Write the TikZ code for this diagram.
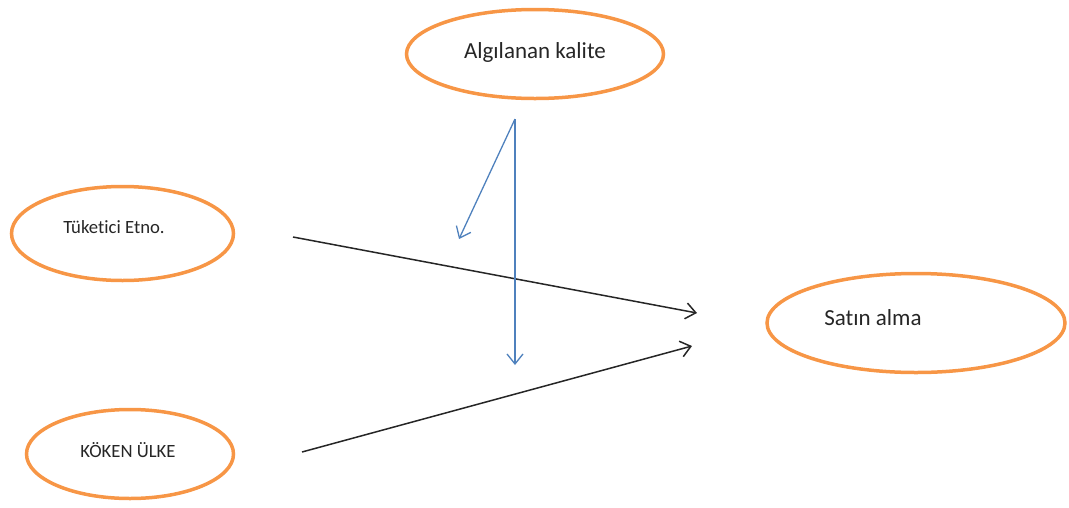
\documentclass[tikz,border=0pt]{standalone}
\usepackage{fontspec}
\setmainfont{Carlito}[Ligatures=NoCommon]
\usetikzlibrary{shapes.geometric,arrows.meta}
\definecolor{ovalorange}{HTML}{F79646}
\definecolor{linkblue}{HTML}{4F81BD}
\tikzset{
  oval/.style={draw=ovalorange, line width=3.5pt, ellipse, inner sep=0pt},
  biglabel/.style={font=\fontsize{23}{27}\selectfont, inner sep=0pt, text=black!85},
  smalllabel/.style={font=\fontsize{18.7}{22}\selectfont, inner sep=0pt, text=black!85},
  blackarrow/.style={draw=black!85, line width=1.5pt, -{Straight Barb[length=10pt,width=16pt,line width=1.5pt]}},
  bluearrow/.style={draw=linkblue, line width=1.3pt, -{Straight Barb[length=10pt,width=16pt,line width=1.3pt]}}
}
\begin{document}
\begin{tikzpicture}[x=1pt,y=-1pt]
\useasboundingbox (0,0) rectangle (1069,507);
% ovals
\node[oval, minimum width=222pt, minimum height=94pt] (ete) at (122.5,233.5) {};
\node[oval, minimum width=207pt, minimum height=89pt] (koken) at (130,454) {};
\node[oval, minimum width=257pt, minimum height=89pt] (kalite) at (535,54) {};
\node[oval, minimum width=298pt, minimum height=99pt] (satin) at (916,323) {};
% labels
\node[smalllabel] (eteT) at (114,227) {Tüketici Etno.};
\node[smalllabel] (kokenT) at (128,450) {KÖKEN ÜLKE};
\node[biglabel] (kaliteT) at (535,52) {Algılanan kalite};
\node[biglabel] (satinT) at (873,318) {Satın alma};
% connector ends
\coordinate (a1s) at (293,237);
\coordinate (a1e) at (697,313);
\coordinate (a2s) at (302,452);
\coordinate (a2e) at (692,346);
\coordinate (bs) at (515,119);
\coordinate (b1e) at (459,239);
\coordinate (b2e) at (515,365);
% connectors
\draw[blackarrow] (a1s) -- (a1e);
\draw[blackarrow] (a2s) -- (a2e);
\draw[bluearrow] (bs) -- (b1e);
\draw[bluearrow] (bs) -- (b2e);
\end{tikzpicture}
\end{document}
